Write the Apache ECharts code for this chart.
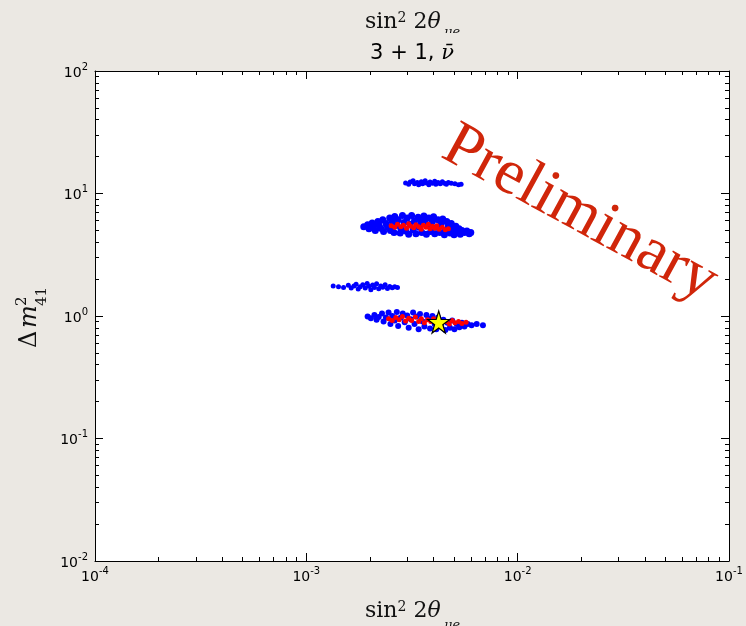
<!DOCTYPE html>
<html>
<head>
<meta charset="utf-8">
<script src="https://cdn.jsdelivr.net/npm/echarts@6/dist/echarts.min.js"></script>
<style>
  html, body { margin: 0; padding: 0; background: #ebe8e3; }
  #main { width: 746px; height: 626px; }
</style>
</head>
<body>
<div id="main"></div>
<script>
// x: sin^2 2theta_mue, y: dm^2_41
const blueTop = [[2.95e-3,12.2],[3.05e-3,11.9],[3.1e-3,12.4],[3.2e-3,12.7],[3.25e-3,12.0],[3.35e-3,12.3],[3.4e-3,11.8],[3.5e-3,12.5],[3.55e-3,12.0],[3.65e-3,12.7],[3.7e-3,12.2],[3.8e-3,11.8],[3.85e-3,12.4],[3.95e-3,12.1],[4.05e-3,12.6],[4.1e-3,11.9],[4.2e-3,12.3],[4.3e-3,12.0],[4.4e-3,12.5],[4.5e-3,12.1],[4.6e-3,11.9],[4.7e-3,12.3],[4.85e-3,12.1],[5.05e-3,12.0],[5.25e-3,11.8],[5.4e-3,11.9]]
const blueMid = [[1.87e-3,5.35],[1.95e-3,5.55],[1.98e-3,5.15],[2.05e-3,5.75],[2.08e-3,5.4],[2.12e-3,5.0],[2.18e-3,5.9],[2.2e-3,5.55],[2.25e-3,5.2],[2.3e-3,6.1],[2.32e-3,4.9],[2.38e-3,5.7],[2.42e-3,5.35],[2.48e-3,6.3],[2.5e-3,5.0],[2.55e-3,5.9],[2.6e-3,4.8],[2.62e-3,6.5],[2.68e-3,5.5],[2.72e-3,6.1],[2.78e-3,4.75],[2.8e-3,5.2],[2.85e-3,6.6],[2.9e-3,5.8],[2.95e-3,4.95],[3.0e-3,6.3],[3.05e-3,4.65],[3.1e-3,5.6],[3.15e-3,6.6],[3.2e-3,5.05],[3.25e-3,6.0],[3.3e-3,4.7],[3.38e-3,6.4],[3.42e-3,5.3],[3.48e-3,5.9],[3.52e-3,4.8],[3.6e-3,6.55],[3.65e-3,6.1],[3.7e-3,4.65],[3.75e-3,5.5],[3.8e-3,6.3],[3.88e-3,4.9],[3.95e-3,5.9],[4.0e-3,6.45],[4.05e-3,4.7],[4.15e-3,5.3],[4.2e-3,6.1],[4.28e-3,4.8],[4.35e-3,5.7],[4.42e-3,6.2],[4.5e-3,4.6],[4.55e-3,5.0],[4.62e-3,5.9],[4.7e-3,5.45],[4.78e-3,4.75],[4.85e-3,5.7],[4.92e-3,5.1],[5.0e-3,4.6],[5.1e-3,5.4],[5.18e-3,4.85],[5.28e-3,5.15],[5.35e-3,4.65],[5.45e-3,5.0],[5.6e-3,4.8],[5.75e-3,4.95],[5.9e-3,4.7],[6.0e-3,4.8]]
const redMid = [[2.52e-3,5.45],[2.62e-3,5.3],[2.7e-3,5.6],[2.8e-3,5.35],[2.88e-3,5.5],[2.98e-3,5.2],[3.05e-3,5.65],[3.12e-3,5.4],[3.22e-3,5.25],[3.3e-3,5.55],[3.4e-3,5.35],[3.5e-3,5.1],[3.58e-3,5.5],[3.68e-3,5.3],[3.78e-3,5.6],[3.85e-3,5.15],[3.95e-3,5.4],[4.05e-3,5.2],[4.15e-3,5.45],[4.25e-3,5.1],[4.4e-3,5.3],[4.55e-3,5.05],[4.7e-3,5.15]]
const blueLeft = [[1.34e-3,1.76],[1.42e-3,1.73],[1.5e-3,1.71],[1.58e-3,1.78],[1.63e-3,1.69],[1.68e-3,1.76],[1.72e-3,1.82],[1.76e-3,1.66],[1.8e-3,1.73],[1.85e-3,1.80],[1.9e-3,1.69],[1.94e-3,1.84],[1.98e-3,1.75],[2.02e-3,1.64],[2.06e-3,1.79],[2.1e-3,1.71],[2.15e-3,1.83],[2.2e-3,1.67],[2.25e-3,1.76],[2.3e-3,1.72],[2.36e-3,1.80],[2.42e-3,1.68],[2.48e-3,1.74],[2.55e-3,1.70],[2.62e-3,1.73],[2.7e-3,1.71]]
const blueLow = [[1.95e-3,0.99],[2.02e-3,0.96],[2.1e-3,1.02],[2.15e-3,0.93],[2.2e-3,0.98],[2.28e-3,1.05],[2.32e-3,0.90],[2.38e-3,0.97],[2.45e-3,1.07],[2.5e-3,0.86],[2.55e-3,1.0],[2.62e-3,0.92],[2.68e-3,1.08],[2.72e-3,0.83],[2.8e-3,0.97],[2.86e-3,1.05],[2.92e-3,0.89],[3.0e-3,1.01],[3.05e-3,0.8],[3.12e-3,0.94],[3.2e-3,1.07],[3.25e-3,0.86],[3.32e-3,0.99],[3.4e-3,0.78],[3.45e-3,1.04],[3.55e-3,0.9],[3.62e-3,0.82],[3.7e-3,1.02],[3.78e-3,0.95],[3.85e-3,0.79],[3.95e-3,1.0],[4.05e-3,0.86],[4.12e-3,0.78],[4.2e-3,0.97],[4.35e-3,0.82],[4.45e-3,0.93],[4.55e-3,0.77],[4.65e-3,0.88],[4.78e-3,0.8],[4.9e-3,0.92],[5.02e-3,0.78],[5.15e-3,0.86],[5.3e-3,0.81],[5.45e-3,0.88],[5.6e-3,0.82],[5.8e-3,0.86],[6.05e-3,0.84],[6.4e-3,0.86],[6.85e-3,0.84]]
const redLow = [[2.45e-3,0.95],[2.55e-3,0.92],[2.65e-3,0.97],[2.75e-3,0.93],[2.85e-3,0.99],[2.95e-3,0.91],[3.05e-3,0.96],[3.15e-3,0.92],[3.28e-3,0.98],[3.4e-3,0.9],[3.5e-3,0.95],[3.62e-3,0.88],[3.75e-3,0.93],[3.88e-3,0.9],[4.0e-3,0.95],[4.6e-3,0.9],[4.75e-3,0.86],[4.9e-3,0.92],[5.05e-3,0.88],[5.25e-3,0.9],[5.45e-3,0.87],[5.7e-3,0.89]]
const bestFit = [[4.23e-3, 0.893]]

// tick positions as decade exponents
const xMajor = [-4, -3, -2, -1]
const yMajor = [-2, -1, 0, 1, 2]

function minorOf(major) {
  const out = []
  for (let i = 0; i < major.length - 1; i++) {
    for (let k = 2; k <= 9; k++) out.push(major[i] + Math.log10(k))
  }
  return out
}
const xMinor = minorOf(xMajor)
const yMinor = minorOf(yMajor)

const supLabel = {
  formatter: function (v) {
    return '{b|10}{s|' + Math.round(v) + '}'
  },
  rich: {
    b: { fontSize: 14, fontFamily: 'DejaVu Sans', color: '#000', lineHeight: 18, verticalAlign: 'bottom' },
    s: { fontSize: 10, fontFamily: 'DejaVu Sans', color: '#000', lineHeight: 10, verticalAlign: 'top' }
  }
}

// exponent-space axes used only for ticks, labels and the frame
function tickAxis(pos, min, max, ticks, len, labels) {
  return {
    type: 'value',
    position: pos,
    min: min,
    max: max,
    z: 10,
    axisLine: { show: labels !== null, onZero: false, lineStyle: { color: '#000', width: 1 } },
    splitLine: { show: false },
    axisTick: { show: true, inside: true, length: len, customValues: ticks, lineStyle: { color: '#000', width: 1 } },
    axisLabel: labels
      ? Object.assign({ show: true, customValues: ticks, margin: pos === 'bottom' ? 5 : 7 }, supLabel)
      : { show: false }
  }
}

const serif = '"DejaVu Serif", serif'
const star = 'path://M50,0 L61,35 L98,35 L68,57 L79,91 L50,70 L21,91 L32,57 L2,35 L39,35 Z'
const bg = '#ebe8e3'

const mainRich = {
  r: { font: '22px ' + serif, fill: '#111' },
  i: { font: 'italic 22px ' + serif, fill: '#111' },
  p: { font: '14px ' + serif, fill: '#111', verticalAlign: 'top' }
}

const chart = echarts.init(document.getElementById('main'))
chart.setOption({
  backgroundColor: bg,
  animation: false,
  grid: {
    left: 95, right: 17, top: 71, bottom: 65,
    show: true, backgroundColor: '#fff', borderWidth: 0
  },
  xAxis: [
    { type: 'log', logBase: 10, min: 1e-4, max: 1e-1, show: false },
    tickAxis('bottom', -4, -1, xMajor, 8, true),
    tickAxis('bottom', -4, -1, xMinor, 4, null),
    tickAxis('top', -4, -1, xMajor, 8, false),
    tickAxis('top', -4, -1, xMinor, 4, null)
  ],
  yAxis: [
    { type: 'log', logBase: 10, min: 1e-2, max: 1e2, show: false },
    tickAxis('left', -2, 2, yMajor, 8, true),
    tickAxis('left', -2, 2, yMinor, 4, null),
    tickAxis('right', -2, 2, yMajor, 8, false),
    tickAxis('right', -2, 2, yMinor, 4, null)
  ],
  series: [
    { type: 'scatter', data: blueTop, symbolSize: 5, itemStyle: { color: '#0000ff', opacity: 1 } },
    { type: 'scatter', data: blueMid, symbolSize: 7, itemStyle: { color: '#0000ff', opacity: 1 } },
    { type: 'scatter', data: blueLeft, symbolSize: 5, itemStyle: { color: '#0000ff', opacity: 1 } },
    { type: 'scatter', data: blueLow, symbolSize: 6, itemStyle: { color: '#0000ff', opacity: 1 } },
    { type: 'scatter', data: redMid, symbolSize: 5, itemStyle: { color: '#ff0000', opacity: 1 } },
    { type: 'scatter', data: redLow, symbolSize: 5, itemStyle: { color: '#ff0000', opacity: 1 } },
    {
      type: 'scatter', data: bestFit, symbol: star, symbolSize: 22, z: 5,
      itemStyle: { color: '#ffff00', borderColor: '#000', borderWidth: 1.2, opacity: 1 }
    }
  ],
  graphic: [
    {
      type: 'text', x: 365, y: 33, z: 10,
      style: { text: '{r|sin}{p|2}{r| 2}{i|θ}', textVerticalAlign: 'bottom', rich: mainRich }
    },
    { type: 'text', x: 444, y: 26, z: 10, style: { text: 'μe', font: 'italic 13px ' + serif, fill: '#111' } },
    // the top label's subscript is cut off in the figure
    { type: 'rect', z: 11, shape: { x: 438, y: 33, width: 40, height: 9 }, style: { fill: bg } },
    {
      type: 'text', x: 412, y: 54, z: 10,
      style: {
        text: '3 + 1, {n|ν̄}',
        font: '21px "DejaVu Sans"',
        fill: '#000',
        textAlign: 'center',
        textVerticalAlign: 'middle',
        rich: { n: { font: 'italic 21px ' + serif, fill: '#000' } }
      }
    },
    {
      type: 'text', x: 365, y: 622, z: 10,
      style: { text: '{r|sin}{p|2}{r| 2}{i|θ}', textVerticalAlign: 'bottom', rich: mainRich }
    },
    { type: 'text', x: 444, y: 619, z: 10, style: { text: 'μe', font: 'italic 13px ' + serif, fill: '#111' } },
    {
      type: 'group', x: 30, y: 348, rotation: Math.PI / 2, z: 10,
      children: [
        { type: 'text', x: 0, y: 0, style: { text: 'Δ', font: '24px ' + serif, fill: '#111', textVerticalAlign: 'middle' } },
        { type: 'text', x: 20, y: 0, style: { text: 'm', font: 'italic 24px ' + serif, fill: '#111', textVerticalAlign: 'middle' } },
        { type: 'text', x: 42, y: -8, style: { text: '2', font: '15px ' + serif, fill: '#111', textVerticalAlign: 'middle' } },
        { type: 'text', x: 42, y: 12, style: { text: '41', font: '15px ' + serif, fill: '#111', textVerticalAlign: 'middle' } }
      ]
    },
    {
      type: 'text', x: 580, y: 214, rotation: -0.5, z: 20,
      style: {
        text: 'Preliminary',
        font: '64px "Liberation Serif", serif',
        fill: '#d0260a',
        textAlign: 'center',
        textVerticalAlign: 'middle'
      }
    }
  ]
})
</script>
</body>
</html>
